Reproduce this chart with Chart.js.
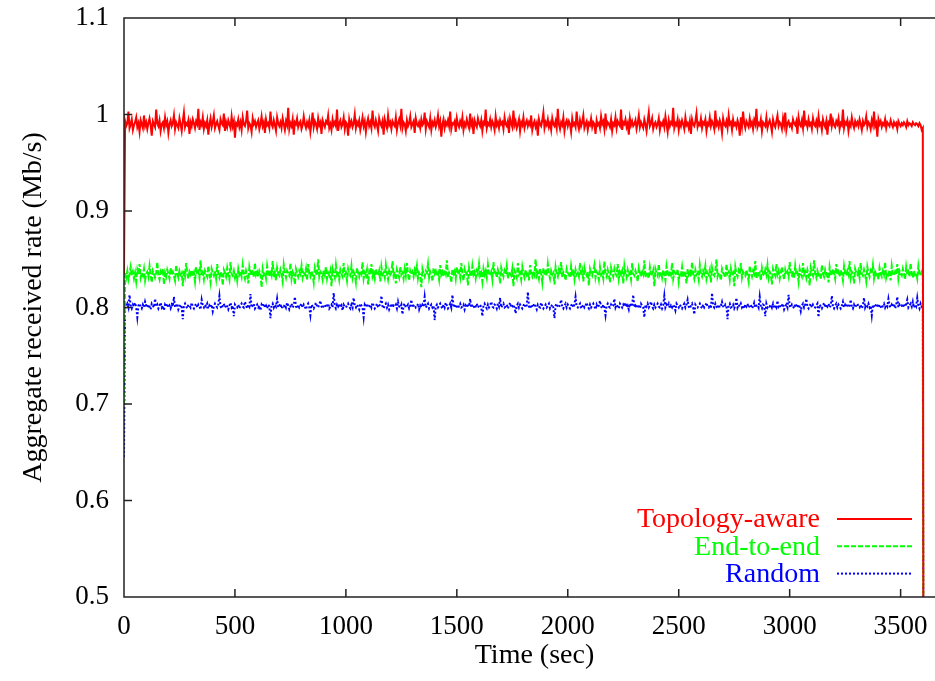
<!DOCTYPE html>
<html>
<head>
<meta charset="utf-8">
<title>Aggregate received rate</title>
<script src="https://cdn.jsdelivr.net/npm/chart.js@4"></script>
<style>
  html, body { margin: 0; padding: 0; background: #fff; overflow: hidden; }
  #rateChart { display: block; }
</style>
</head>
<body>
<canvas id="rateChart" width="945" height="681"></canvas>
<script>
// one sample every 5 seconds, t = 0 .. 3605
const timeStep = 5;

const seriesLabels = ['Topology-aware', 'End-to-end', 'Random'];
const xTicks = [0, 500, 1000, 1500, 2000, 2500, 3000, 3500];
const yTicks = [0.5, 0.6, 0.7, 0.8, 0.9, 1, 1.1];

// Mb/s
const topologyAware = [0.835,
  0.993, 0.988, 0.991, 1.003, 0.986, 0.990, 0.995, 0.984, 0.989, 0.992, 0.997, 0.987, 0.991, 0.982, 0.994, 0.990, 0.986, 0.999, 0.988, 0.992,
  0.985, 0.991, 0.996, 0.989, 0.978, 0.993, 0.990, 0.987, 1.005, 0.991, 0.988, 0.994, 0.983, 0.990, 0.992, 0.986, 0.997, 0.989, 0.993, 0.981,
  0.990, 0.994, 0.988, 0.991, 0.999, 0.985, 0.992, 0.989, 0.986, 0.996, 0.990, 0.983, 0.993, 1.002, 0.987, 0.991, 0.989, 0.994, 0.980, 0.992,
  0.988, 0.995, 0.991, 0.986, 0.993, 0.990, 1.006, 0.984, 0.992, 0.989, 0.997, 0.985, 0.991, 0.988, 0.994, 0.979, 0.990, 0.996, 0.987, 0.992,
  0.999, 0.986, 0.990, 0.993, 0.988, 0.984, 0.995, 0.991, 0.989, 1.001, 0.983, 0.992, 0.987, 0.994, 0.990, 0.986, 0.998, 0.988, 0.993, 0.976,
  0.991, 0.989, 0.995, 0.987, 0.992, 0.984, 0.997, 0.990, 0.988, 0.993, 1.004, 0.986, 0.991, 0.989, 0.982, 0.996, 0.990, 0.993, 0.987, 0.991,
  0.994, 0.985, 0.990, 0.998, 0.988, 0.992, 0.981, 0.995, 0.989, 0.991, 0.986, 1.003, 0.990, 0.987, 0.994, 0.989, 0.983, 0.997, 0.991, 0.988,
  0.992, 0.986, 0.996, 0.990, 0.984, 0.993, 0.989, 1.007, 0.985, 0.991, 0.988, 0.995, 0.979, 0.992, 0.990, 0.996, 0.987, 0.991, 0.993, 0.985,
  0.989, 0.998, 0.990, 0.986, 0.992, 0.988, 0.994, 0.982, 0.991, 1.002, 0.987, 0.993, 0.990, 0.985, 0.996, 0.989, 0.992, 0.980, 0.994, 0.990,
  0.987, 0.993, 0.991, 0.999, 0.986, 0.990, 0.984, 0.995, 0.989, 0.992, 0.988, 1.005, 0.983, 0.991, 0.994, 0.987, 0.990, 0.997, 0.985, 0.992,
  0.990, 0.978, 0.995, 0.989, 0.993, 0.987, 0.991, 1.000, 0.986, 0.992, 0.989, 0.994, 0.984, 0.990, 0.997, 0.988, 0.993, 0.982, 0.991, 0.996,
  0.988, 0.992, 0.986, 1.004, 0.990, 0.987, 0.994, 0.989, 0.983, 0.996, 0.991, 0.988, 0.993, 0.979, 0.995, 0.990, 0.986, 0.999, 0.989, 0.992,
  0.985, 0.993, 0.990, 0.988, 0.997, 0.984, 0.991, 0.995, 0.989, 1.006, 0.986, 0.992, 0.990, 0.983, 0.994, 0.988, 0.991, 0.998, 0.987, 0.990,
  0.993, 0.981, 0.996, 0.990, 0.988, 0.992, 0.986, 0.995, 0.989, 0.991, 1.002, 0.985, 0.993, 0.990, 0.987, 0.996, 0.984, 0.992, 0.989, 0.994,
  0.987, 0.991, 0.999, 0.988, 0.993, 0.977, 0.990, 0.995, 0.986, 0.992, 0.989, 0.994, 0.988, 1.003, 0.985, 0.991, 0.990, 0.993, 0.982, 0.996,
  0.990, 0.987, 0.993, 0.989, 0.997, 0.984, 0.991, 0.988, 0.995, 0.990, 0.986, 1.001, 0.989, 0.993, 0.980, 0.994, 0.990, 0.987, 0.996, 0.991,
  0.988, 0.994, 0.983, 0.992, 0.990, 1.005, 0.986, 0.991, 0.989, 0.995, 0.987, 0.993, 0.990, 0.984, 0.998, 0.989, 0.992, 0.986, 0.994, 0.990,
  0.992, 0.985, 0.997, 0.990, 0.988, 0.993, 0.981, 0.996, 0.991, 0.987, 1.004, 0.989, 0.993, 0.986, 0.990, 0.995, 0.983, 0.992, 0.989, 0.997,
  0.986, 0.991, 0.994, 0.988, 0.992, 0.989, 0.999, 0.984, 0.990, 0.993, 0.987, 0.991, 0.978, 0.995, 0.990, 0.988, 0.994, 1.002, 0.986, 0.992,
  0.989, 0.995, 0.987, 0.991, 0.984, 0.996, 0.990, 0.988, 0.993, 0.986, 1.006, 0.990, 0.985, 0.992, 0.989, 0.997, 0.983, 0.991, 0.994, 0.988,
  0.993, 0.990, 0.982, 0.996, 0.989, 0.991, 0.987, 1.003, 0.990, 0.985, 0.994, 0.988, 0.992, 0.999, 0.986, 0.990, 0.993, 0.984, 0.991, 0.989,
  0.996, 0.987, 0.992, 0.990, 0.980, 0.994, 0.989, 0.991, 0.986, 0.998, 0.990, 0.993, 0.985, 1.001, 0.988, 0.992, 0.990, 0.987, 0.995, 0.983,
  0.991, 0.989, 0.997, 0.986, 0.993, 0.990, 0.988, 1.005, 0.984, 0.992, 0.990, 0.995, 0.987, 0.991, 0.979, 0.996, 0.989, 0.993, 0.988, 0.990,
  0.994, 0.985, 0.991, 0.999, 0.987, 0.992, 0.989, 0.986, 0.995, 0.990, 0.983, 0.993, 1.002, 0.988, 0.991, 0.996, 0.985, 0.990, 0.992, 0.987,
  0.990, 0.996, 0.984, 0.991, 0.989, 0.993, 0.987, 0.998, 0.990, 0.982, 0.994, 0.988, 0.992, 0.990, 1.007, 0.986, 0.991, 0.989, 0.995, 0.984,
  0.992, 0.988, 0.994, 0.990, 0.985, 0.997, 0.989, 0.991, 0.986, 0.993, 0.980, 0.995, 0.990, 0.988, 0.993, 1.001, 0.987, 0.991, 0.989, 0.996,
  0.986, 0.992, 0.990, 0.995, 0.983, 0.991, 0.989, 0.997, 0.988, 0.993, 0.990, 0.985, 1.004, 0.989, 0.992, 0.987, 0.994, 0.990, 0.981, 0.996,
  0.990, 0.988, 0.993, 0.986, 0.999, 0.990, 0.992, 0.984, 0.995, 0.989, 0.991, 0.987, 0.994, 0.990, 0.978, 0.997, 0.988, 1.003, 0.991, 0.986,
  0.993, 0.990, 0.987, 0.996, 0.989, 0.992, 0.985, 0.994, 0.990, 1.006, 0.987, 0.991, 0.989, 0.995, 0.983, 0.992, 0.990, 0.988, 0.997, 0.986,
  0.991, 0.994, 0.989, 0.982, 0.995, 0.990, 0.987, 0.993, 0.999, 0.988, 0.992, 0.990, 0.985, 0.996, 0.989, 1.002, 0.984, 0.991, 0.993, 0.988,
  0.990, 0.986, 0.995, 0.991, 0.989, 0.993, 0.980, 0.997, 0.990, 0.988, 0.994, 0.986, 1.004, 0.990, 0.992, 0.987, 0.995, 0.989, 0.991, 0.985,
  0.996, 0.990, 0.988, 0.993, 0.986, 0.998, 0.989, 0.991, 0.984, 0.995, 0.990, 0.987, 0.993, 0.979, 0.992, 0.990, 1.001, 0.988, 0.994, 0.989,
  0.987, 0.993, 0.990, 0.996, 0.985, 0.991, 0.989, 1.005, 0.986, 0.992, 0.990, 0.994, 0.983, 0.991, 0.988, 0.997, 0.990, 0.986, 0.993, 0.989,
  0.992, 0.988, 0.995, 0.990, 0.984, 0.993, 0.989, 0.991, 0.998, 0.987, 0.992, 0.990, 0.985, 0.994, 0.989, 1.003, 0.988, 0.991, 0.977, 0.995,
  0.990, 0.993, 0.987, 0.991, 0.989, 0.995, 0.986, 0.992, 0.990, 0.988, 0.994, 0.990, 0.987, 0.992, 0.989, 0.991, 0.985, 0.993, 0.990, 0.988,
  0.991, 0.989, 0.992, 0.990, 0.987, 0.993, 0.989, 0.991, 0.990, 0.988, 0.992, 0.990, 0.989, 0.991, 0.990, 0.988, 0.991, 0.989, 0.984, 0.986,
  0.000];

const endToEnd = [0.700,
  0.836, 0.831, 0.838, 0.829, 0.835, 0.842, 0.833, 0.837, 0.830, 0.836, 0.827, 0.839, 0.834, 0.845, 0.831, 0.836, 0.833, 0.840, 0.828, 0.835,
  0.837, 0.832, 0.843, 0.834, 0.826, 0.838, 0.835, 0.831, 0.836, 0.847, 0.833, 0.829, 0.837, 0.834, 0.840, 0.824, 0.836, 0.832, 0.839, 0.835,
  0.830, 0.841, 0.834, 0.837, 0.833, 0.828, 0.844, 0.835, 0.831, 0.838, 0.834, 0.836, 0.822, 0.839, 0.833, 0.846, 0.835, 0.830, 0.837, 0.834,
  0.839, 0.832, 0.836, 0.827, 0.842, 0.834, 0.837, 0.831, 0.849, 0.833, 0.836, 0.829, 0.838, 0.835, 0.832, 0.843, 0.834, 0.826, 0.840, 0.836,
  0.833, 0.838, 0.830, 0.845, 0.835, 0.831, 0.837, 0.834, 0.823, 0.839, 0.836, 0.832, 0.841, 0.834, 0.829, 0.847, 0.835, 0.833, 0.838, 0.831,
  0.836, 0.828, 0.840, 0.834, 0.837, 0.832, 0.844, 0.835, 0.830, 0.838, 0.834, 0.825, 0.842, 0.836, 0.833, 0.839, 0.831, 0.846, 0.834, 0.837,
  0.832, 0.838, 0.835, 0.821, 0.840, 0.834, 0.836, 0.830, 0.843, 0.835, 0.832, 0.839, 0.834, 0.848, 0.831, 0.836, 0.828, 0.841, 0.835, 0.833,
  0.839, 0.834, 0.827, 0.844, 0.836, 0.831, 0.838, 0.835, 0.833, 0.846, 0.830, 0.837, 0.834, 0.824, 0.840, 0.836, 0.832, 0.838, 0.835, 0.843,
  0.831, 0.836, 0.834, 0.840, 0.828, 0.845, 0.835, 0.832, 0.838, 0.834, 0.826, 0.841, 0.836, 0.833, 0.850, 0.832, 0.837, 0.835, 0.829, 0.839,
  0.834, 0.842, 0.830, 0.836, 0.833, 0.838, 0.822, 0.840, 0.835, 0.831, 0.844, 0.834, 0.837, 0.829, 0.839, 0.835, 0.832, 0.846, 0.834, 0.836,
  0.828, 0.840, 0.835, 0.833, 0.843, 0.831, 0.837, 0.834, 0.826, 0.841, 0.836, 0.832, 0.838, 0.835, 0.847, 0.830, 0.836, 0.833, 0.839, 0.824,
  0.837, 0.834, 0.845, 0.832, 0.836, 0.830, 0.840, 0.835, 0.833, 0.838, 0.827, 0.842, 0.834, 0.836, 0.831, 0.844, 0.835, 0.829, 0.838, 0.834,
  0.836, 0.848, 0.833, 0.837, 0.825, 0.839, 0.835, 0.831, 0.842, 0.834, 0.836, 0.830, 0.840, 0.833, 0.846, 0.835, 0.828, 0.838, 0.834, 0.837,
  0.832, 0.839, 0.835, 0.843, 0.830, 0.836, 0.834, 0.821, 0.840, 0.835, 0.832, 0.838, 0.836, 0.845, 0.831, 0.837, 0.834, 0.827, 0.841, 0.835,
  0.838, 0.833, 0.836, 0.829, 0.844, 0.834, 0.837, 0.832, 0.839, 0.835, 0.849, 0.831, 0.836, 0.833, 0.826, 0.840, 0.835, 0.838, 0.830, 0.842,
  0.834, 0.837, 0.831, 0.846, 0.835, 0.828, 0.839, 0.834, 0.836, 0.823, 0.841, 0.835, 0.832, 0.843, 0.834, 0.837, 0.830, 0.838, 0.835, 0.845,
  0.833, 0.836, 0.827, 0.840, 0.834, 0.838, 0.831, 0.844, 0.835, 0.833, 0.837, 0.829, 0.847, 0.834, 0.836, 0.831, 0.839, 0.835, 0.825, 0.841,
  0.836, 0.832, 0.838, 0.834, 0.843, 0.830, 0.837, 0.835, 0.833, 0.840, 0.822, 0.838, 0.835, 0.831, 0.846, 0.834, 0.836, 0.829, 0.842, 0.835,
  0.831, 0.839, 0.834, 0.837, 0.828, 0.844, 0.835, 0.832, 0.838, 0.834, 0.850, 0.833, 0.836, 0.830, 0.840, 0.835, 0.826, 0.841, 0.834, 0.837,
  0.833, 0.845, 0.835, 0.830, 0.838, 0.834, 0.836, 0.824, 0.842, 0.835, 0.832, 0.839, 0.834, 0.847, 0.831, 0.837, 0.835, 0.828, 0.840, 0.836,
  0.834, 0.831, 0.843, 0.835, 0.837, 0.829, 0.839, 0.834, 0.836, 0.832, 0.846, 0.833, 0.838, 0.827, 0.841, 0.835, 0.833, 0.837, 0.823, 0.840,
  0.836, 0.833, 0.838, 0.844, 0.831, 0.837, 0.835, 0.829, 0.842, 0.834, 0.836, 0.830, 0.848, 0.835, 0.832, 0.839, 0.834, 0.826, 0.841, 0.836,
  0.832, 0.840, 0.835, 0.833, 0.845, 0.830, 0.837, 0.834, 0.838, 0.825, 0.843, 0.835, 0.831, 0.839, 0.834, 0.836, 0.829, 0.846, 0.835, 0.833,
  0.838, 0.834, 0.827, 0.841, 0.836, 0.832, 0.839, 0.835, 0.849, 0.831, 0.837, 0.834, 0.830, 0.842, 0.835, 0.833, 0.838, 0.822, 0.840, 0.836,
  0.833, 0.845, 0.834, 0.837, 0.831, 0.839, 0.835, 0.828, 0.843, 0.836, 0.832, 0.838, 0.834, 0.846, 0.830, 0.837, 0.835, 0.833, 0.840, 0.827,
  0.836, 0.834, 0.842, 0.831, 0.838, 0.835, 0.825, 0.840, 0.834, 0.837, 0.832, 0.847, 0.835, 0.830, 0.839, 0.834, 0.836, 0.829, 0.844, 0.835,
  0.832, 0.838, 0.835, 0.843, 0.830, 0.836, 0.834, 0.839, 0.826, 0.841, 0.835, 0.833, 0.837, 0.850, 0.832, 0.836, 0.834, 0.828, 0.840, 0.836,
  0.834, 0.831, 0.845, 0.835, 0.837, 0.829, 0.840, 0.834, 0.836, 0.822, 0.842, 0.835, 0.832, 0.838, 0.834, 0.846, 0.831, 0.837, 0.835, 0.833,
  0.839, 0.834, 0.827, 0.843, 0.836, 0.832, 0.838, 0.835, 0.848, 0.830, 0.837, 0.834, 0.836, 0.828, 0.841, 0.835, 0.833, 0.839, 0.834, 0.844,
  0.831, 0.837, 0.835, 0.824, 0.840, 0.836, 0.833, 0.845, 0.834, 0.838, 0.830, 0.836, 0.842, 0.835, 0.829, 0.839, 0.834, 0.837, 0.832, 0.847,
  0.835, 0.833, 0.838, 0.830, 0.843, 0.834, 0.836, 0.827, 0.840, 0.835, 0.832, 0.846, 0.834, 0.837, 0.831, 0.839, 0.835, 0.823, 0.841, 0.836,
  0.833, 0.849, 0.835, 0.831, 0.838, 0.834, 0.836, 0.829, 0.844, 0.835, 0.832, 0.839, 0.834, 0.837, 0.826, 0.842, 0.835, 0.833, 0.840, 0.836,
  0.830, 0.845, 0.834, 0.837, 0.832, 0.839, 0.835, 0.828, 0.843, 0.836, 0.833, 0.838, 0.834, 0.848, 0.831, 0.837, 0.835, 0.825, 0.840, 0.836,
  0.834, 0.838, 0.831, 0.846, 0.835, 0.833, 0.839, 0.834, 0.827, 0.842, 0.836, 0.832, 0.838, 0.835, 0.844, 0.830, 0.837, 0.834, 0.836, 0.829,
  0.841, 0.835, 0.832, 0.838, 0.834, 0.847, 0.831, 0.836, 0.834, 0.839, 0.828, 0.843, 0.835, 0.833, 0.837, 0.834, 0.845, 0.830, 0.838, 0.835,
  0.833, 0.840, 0.835, 0.829, 0.842, 0.834, 0.837, 0.832, 0.846, 0.835, 0.831, 0.838, 0.834, 0.836, 0.830, 0.843, 0.835, 0.833, 0.837, 0.834,
  0.000];

const randomSel = [0.645,
  0.803, 0.801, 0.804, 0.800, 0.813, 0.802, 0.799, 0.803, 0.801, 0.805, 0.800, 0.790, 0.802, 0.804, 0.801, 0.799, 0.803, 0.800, 0.806, 0.802,
  0.800, 0.803, 0.801, 0.798, 0.804, 0.802, 0.800, 0.809, 0.801, 0.803, 0.799, 0.802, 0.805, 0.800, 0.802, 0.797, 0.803, 0.801, 0.804, 0.800,
  0.802, 0.799, 0.803, 0.801, 0.811, 0.800, 0.802, 0.804, 0.798, 0.801, 0.803, 0.800, 0.788, 0.802, 0.804, 0.801, 0.799, 0.803, 0.802, 0.800,
  0.805, 0.801, 0.799, 0.802, 0.804, 0.800, 0.803, 0.801, 0.798, 0.808, 0.802, 0.800, 0.803, 0.801, 0.804, 0.799, 0.802, 0.800, 0.803, 0.796,
  0.801, 0.804, 0.802, 0.800, 0.803, 0.812, 0.801, 0.799, 0.802, 0.804, 0.800, 0.803, 0.801, 0.798, 0.802, 0.805, 0.800, 0.802, 0.791, 0.803,
  0.801, 0.800, 0.803, 0.799, 0.802, 0.804, 0.801, 0.800, 0.806, 0.802, 0.799, 0.803, 0.801, 0.814, 0.800, 0.802, 0.804, 0.799, 0.801, 0.803,
  0.800, 0.802, 0.797, 0.803, 0.801, 0.804, 0.800, 0.802, 0.799, 0.803, 0.801, 0.789, 0.802, 0.804, 0.800, 0.803, 0.801, 0.809, 0.800, 0.802,
  0.804, 0.799, 0.802, 0.801, 0.803, 0.800, 0.805, 0.802, 0.798, 0.801, 0.804, 0.800, 0.802, 0.811, 0.801, 0.799, 0.803, 0.800, 0.802, 0.804,
  0.800, 0.803, 0.801, 0.798, 0.802, 0.804, 0.800, 0.792, 0.803, 0.801, 0.799, 0.802, 0.805, 0.801, 0.800, 0.803, 0.807, 0.801, 0.799, 0.802,
  0.803, 0.800, 0.802, 0.804, 0.799, 0.801, 0.803, 0.800, 0.815, 0.802, 0.799, 0.803, 0.801, 0.804, 0.800, 0.802, 0.797, 0.803, 0.801, 0.800,
  0.802, 0.804, 0.801, 0.799, 0.803, 0.800, 0.810, 0.802, 0.800, 0.803, 0.801, 0.798, 0.804, 0.802, 0.800, 0.790, 0.803, 0.801, 0.804, 0.800,
  0.801, 0.803, 0.800, 0.805, 0.802, 0.799, 0.801, 0.804, 0.800, 0.802, 0.803, 0.812, 0.801, 0.799, 0.802, 0.804, 0.800, 0.803, 0.798, 0.801,
  0.804, 0.800, 0.802, 0.801, 0.803, 0.799, 0.806, 0.801, 0.800, 0.803, 0.793, 0.802, 0.804, 0.800, 0.801, 0.803, 0.799, 0.802, 0.808, 0.800,
  0.802, 0.803, 0.800, 0.801, 0.804, 0.798, 0.802, 0.800, 0.803, 0.801, 0.811, 0.800, 0.802, 0.804, 0.799, 0.801, 0.803, 0.800, 0.802, 0.787,
  0.801, 0.803, 0.800, 0.802, 0.804, 0.801, 0.799, 0.803, 0.800, 0.805, 0.802, 0.799, 0.801, 0.804, 0.800, 0.813, 0.802, 0.800, 0.803, 0.801,
  0.799, 0.802, 0.804, 0.800, 0.801, 0.803, 0.798, 0.802, 0.800, 0.804, 0.801, 0.809, 0.800, 0.802, 0.803, 0.799, 0.801, 0.804, 0.800, 0.802,
  0.803, 0.800, 0.791, 0.802, 0.804, 0.801, 0.799, 0.803, 0.800, 0.802, 0.806, 0.801, 0.800, 0.803, 0.802, 0.799, 0.804, 0.801, 0.810, 0.800,
  0.802, 0.804, 0.800, 0.801, 0.803, 0.799, 0.802, 0.805, 0.800, 0.801, 0.803, 0.800, 0.794, 0.802, 0.804, 0.800, 0.803, 0.801, 0.799, 0.802,
  0.804, 0.800, 0.802, 0.816, 0.801, 0.799, 0.803, 0.800, 0.802, 0.804, 0.801, 0.798, 0.803, 0.801, 0.800, 0.805, 0.802, 0.799, 0.801, 0.803,
  0.800, 0.802, 0.804, 0.799, 0.801, 0.803, 0.800, 0.789, 0.802, 0.804, 0.801, 0.800, 0.803, 0.808, 0.801, 0.799, 0.802, 0.804, 0.800, 0.803,
  0.801, 0.799, 0.802, 0.804, 0.800, 0.803, 0.811, 0.801, 0.800, 0.802, 0.804, 0.799, 0.801, 0.803, 0.800, 0.802, 0.805, 0.801, 0.799, 0.803,
  0.800, 0.802, 0.804, 0.801, 0.798, 0.803, 0.800, 0.802, 0.807, 0.801, 0.799, 0.803, 0.800, 0.792, 0.802, 0.804, 0.801, 0.800, 0.803, 0.801,
  0.802, 0.809, 0.800, 0.803, 0.801, 0.799, 0.804, 0.802, 0.800, 0.803, 0.801, 0.805, 0.800, 0.802, 0.798, 0.804, 0.801, 0.803, 0.813, 0.800,
  0.802, 0.800, 0.803, 0.801, 0.799, 0.804, 0.802, 0.800, 0.790, 0.803, 0.801, 0.804, 0.800, 0.802, 0.806, 0.801, 0.799, 0.803, 0.800, 0.802,
  0.804, 0.801, 0.800, 0.803, 0.799, 0.802, 0.812, 0.800, 0.803, 0.801, 0.804, 0.799, 0.802, 0.800, 0.803, 0.801, 0.797, 0.804, 0.802, 0.800,
  0.803, 0.801, 0.799, 0.802, 0.804, 0.800, 0.803, 0.808, 0.801, 0.799, 0.802, 0.804, 0.800, 0.793, 0.803, 0.801, 0.800, 0.802, 0.804, 0.801,
  0.799, 0.803, 0.800, 0.802, 0.805, 0.801, 0.800, 0.803, 0.799, 0.815, 0.802, 0.800, 0.804, 0.801, 0.799, 0.803, 0.800, 0.802, 0.806, 0.801,
  0.800, 0.803, 0.801, 0.788, 0.802, 0.804, 0.800, 0.801, 0.803, 0.799, 0.802, 0.810, 0.800, 0.803, 0.801, 0.804, 0.800, 0.802, 0.799, 0.803,
  0.801, 0.804, 0.800, 0.802, 0.803, 0.799, 0.801, 0.805, 0.800, 0.802, 0.803, 0.800, 0.811, 0.801, 0.799, 0.803, 0.802, 0.791, 0.804, 0.800,
  0.802, 0.801, 0.803, 0.800, 0.804, 0.799, 0.802, 0.800, 0.807, 0.801, 0.803, 0.800, 0.802, 0.804, 0.798, 0.801, 0.803, 0.800, 0.813, 0.802,
  0.800, 0.803, 0.801, 0.799, 0.804, 0.802, 0.800, 0.803, 0.801, 0.796, 0.802, 0.804, 0.800, 0.803, 0.809, 0.801, 0.799, 0.802, 0.804, 0.800,
  0.803, 0.801, 0.800, 0.802, 0.804, 0.790, 0.803, 0.801, 0.799, 0.802, 0.805, 0.800, 0.803, 0.801, 0.804, 0.800, 0.802, 0.812, 0.801, 0.799,
  0.802, 0.804, 0.800, 0.803, 0.801, 0.799, 0.802, 0.806, 0.800, 0.803, 0.801, 0.804, 0.800, 0.802, 0.808, 0.801, 0.799, 0.803, 0.800, 0.802,
  0.804, 0.801, 0.800, 0.803, 0.799, 0.802, 0.810, 0.800, 0.803, 0.801, 0.804, 0.800, 0.802, 0.792, 0.803, 0.801, 0.800, 0.804, 0.802, 0.800,
  0.803, 0.801, 0.799, 0.802, 0.804, 0.800, 0.803, 0.801, 0.809, 0.802, 0.800, 0.803, 0.801, 0.804, 0.799, 0.802, 0.811, 0.800, 0.803, 0.801,
  0.802, 0.800, 0.804, 0.801, 0.803, 0.808, 0.800, 0.802, 0.804, 0.801, 0.806, 0.800, 0.803, 0.801, 0.810, 0.802, 0.799, 0.804, 0.801, 0.802,
  0.000];

const serif = '"Liberation Serif", "DejaVu Serif", serif';
const tickFont = { family: serif, size: 27 };
const titleFont = { family: serif, size: 28 };

function toPoints(values) {
  return values.map((v, i) => ({ x: i * timeStep, y: v }));
}

// gnuplot-like frame with inward ticks, and a right-aligned key
const framePlugin = {
  id: 'frame',
  afterDatasetsDraw(chart) {
    const { ctx, chartArea: a, scales } = chart;
    ctx.save();
    ctx.strokeStyle = '#222';
    ctx.lineWidth = 1.5;
    ctx.beginPath();
    ctx.moveTo(a.right, a.top);
    ctx.lineTo(a.left, a.top);
    ctx.lineTo(a.left, a.bottom);
    ctx.lineTo(a.right, a.bottom);
    const tl = 8;
    xTicks.forEach(v => {
      const x = scales.x.getPixelForValue(v);
      ctx.moveTo(x, a.bottom); ctx.lineTo(x, a.bottom - tl);
      ctx.moveTo(x, a.top); ctx.lineTo(x, a.top + tl);
    });
    yTicks.forEach(v => {
      const y = scales.y.getPixelForValue(v);
      ctx.moveTo(a.left, y); ctx.lineTo(a.left + tl, y);
    });
    ctx.stroke();

    // key
    ctx.font = '28px ' + serif;
    ctx.textAlign = 'right';
    ctx.textBaseline = 'middle';
    chart.data.datasets.forEach((ds, i) => {
      const y = 519 + i * 27.3;
      ctx.fillStyle = ds.borderColor;
      ctx.fillText(ds.label, 820, y + 1);
      ctx.strokeStyle = ds.borderColor;
      ctx.lineWidth = ds.borderWidth;
      ctx.setLineDash(ds.borderDash);
      ctx.beginPath();
      ctx.moveTo(837, y);
      ctx.lineTo(912, y);
      ctx.stroke();
    });
    ctx.restore();
  }
};

new Chart(document.getElementById('rateChart'), {
  type: 'line',
  data: {
    datasets: [
      { label: seriesLabels[0], data: toPoints(topologyAware), borderColor: '#ff0000', borderWidth: 2, borderDash: [] },
      { label: seriesLabels[1], data: toPoints(endToEnd), borderColor: '#00ff00', borderWidth: 2, borderDash: [5, 2] },
      { label: seriesLabels[2], data: toPoints(randomSel), borderColor: '#0000ff', borderWidth: 2, borderDash: [2, 2] }
    ]
  },
  options: {
    responsive: false,
    animation: false,
    layout: { padding: { top: 18, right: 0, left: 0, bottom: 0 } },
    elements: { point: { radius: 0 }, line: { tension: 0 } },
    plugins: { legend: { display: false }, tooltip: { enabled: false } },
    scales: {
      x: {
        type: 'linear',
        min: 0,
        max: 3700,
        afterBuildTicks: s => { s.ticks = xTicks.map(v => ({ value: v })); },
        afterFit: s => { s.height = 84; s.paddingLeft = 0; s.paddingRight = 0; },
        grid: { display: false, drawTicks: false },
        border: { display: false },
        ticks: { font: tickFont, color: '#000', padding: 14, maxRotation: 0, autoSkip: false, callback: v => String(v) },
        title: { display: true, text: 'Time (sec)', font: titleFont, color: '#000', padding: { top: 0, bottom: 9 } }
      },
      y: {
        min: 0.5,
        max: 1.1,
        afterBuildTicks: s => { s.ticks = yTicks.map(v => ({ value: v })); },
        afterFit: s => { s.width = 124; s.paddingTop = 0; s.paddingBottom = 0; },
        grid: { display: false, drawTicks: false },
        border: { display: false },
        ticks: { font: tickFont, color: '#000', padding: 15, callback: v => String(v) },
        title: { display: true, text: 'Aggregate received rate (Mb/s)', font: titleFont, color: '#000', padding: { top: 17, bottom: 0 } }
      }
    }
  },
  plugins: [framePlugin]
});
</script>
</body>
</html>
